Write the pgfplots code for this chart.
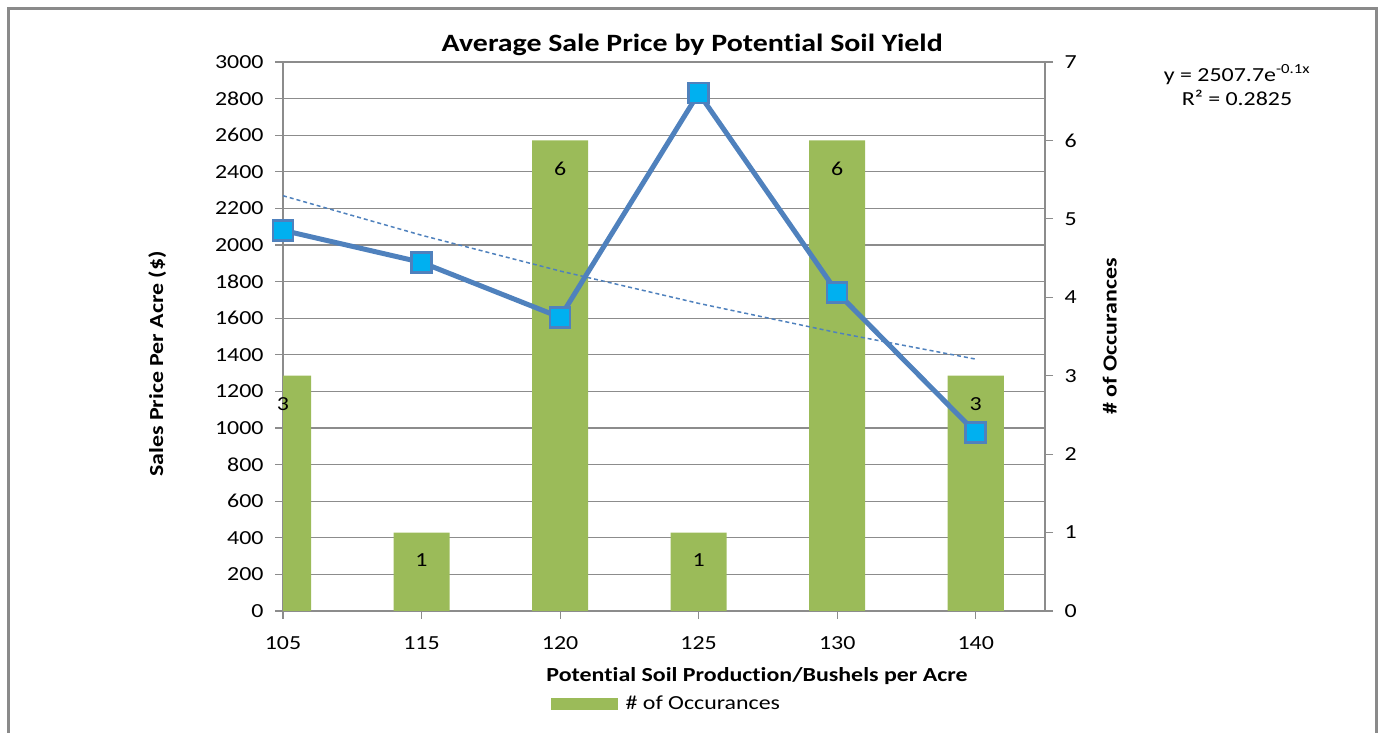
\documentclass[border=0pt]{standalone}
\usepackage{pgfplots}
\pgfplotsset{compat=1.18}
\usepackage{fontspec}
\setmainfont{Carlito}[FakeStretch=1.2, Ligatures=CommonOff]
\definecolor{bargreen}{HTML}{9BBB59}
\definecolor{lineblue}{HTML}{4F81BD}
\definecolor{markcyan}{HTML}{00B0F0}
\definecolor{gridgray}{HTML}{8C8C8C}
\definecolor{framegray}{HTML}{8A8A8A}
\newcommand{\tf}{\fontsize{20}{24}\selectfont}
\pgfplotsset{
  base/.style={
    at={(283bp,121bp)}, anchor=south west,
    scale only axis, width=762bp, height=549bp,
    xmin=0, xmax=5.5,
    tick label style={font=\tf},
    /pgf/number format/assume math mode=true,
    axis line style={gridgray, line width=1.2bp},
    tick style={gridgray, line width=1.2bp},
    tick align=outside, major tick length=8bp,
  }
}
\begin{document}
\begin{tikzpicture}[x=1bp,y=1bp]
\path[use as bounding box] (0,0) rectangle (1384,732);
\draw[framegray, line width=3bp] (8.5,-10) -- (8.5,723.5) -- (1376.5,723.5) -- (1376.5,-10);

% grid and left axis
\begin{axis}[base,
  ymin=0, ymax=3000,
  axis x line*=bottom, axis y line*=left,
  xtick={0,1,2,3,4,5}, xticklabels={105,115,120,125,130,140},
  ytick={0,200,...,3000},
  yticklabel style={/pgf/number format/1000 sep={}, xshift=-8bp},
  ymajorgrids, major grid style={gridgray, line width=1.2bp},
  xlabel={\textbf{Potential Soil Production/Bushels per Acre}},
  xlabel style={font=\tf, at={(rel axis cs:0.622,-0.118)}, anchor=center},
  ylabel={\textbf{Sales Price Per Acre (\$)}},
  ylabel style={font=\tf, at={(rel axis cs:-0.165,0.45)}, anchor=center},
  title={\textbf{Average Sale Price by Potential Soil Yield}},
  title style={font=\fontsize{25}{30}\selectfont, at={(rel axis cs:0.537,1.02)}, anchor=center},
  xticklabel style={yshift=-14bp},
]
\addplot[draw=none] coordinates {(0,0)};
\end{axis}

% bars, right axis
\begin{axis}[base,
  ymin=0, ymax=7,
  axis x line=none, axis y line*=right,
  ytick={0,1,...,7},
  yticklabel style={xshift=8bp},
  ybar, bar width=56bp,
  ylabel={\textbf{\# of Occurances}},
  ylabel style={font=\tf, at={(rel axis cs:1.085,0.5)}, anchor=center},
  legend style={font=\tf, at={(rel axis cs:0.347,-0.169)}, anchor=west, draw=none, fill=none},
  legend image code/.code={\fill[bargreen] (0bp,-6bp) rectangle (67bp,6bp);},
  nodes near coords,
  every node near coord/.append style={font=\tf, anchor=north, yshift=-18bp, text=black},
]
\addplot[fill=bargreen, draw=none] coordinates {(0,3) (1,1) (2,6) (3,1) (4,6) (5,3)};
\addlegendentry{\hspace*{6bp}\# of Occurances}
\end{axis}

% line and trendline
\begin{axis}[base,
  ymin=0, ymax=3000,
  axis lines=none,
]
\addplot[lineblue, line width=1.5bp, dash pattern=on 4bp off 3bp] coordinates {(0,2269.1) (1,2053.2) (2,1857.8) (3,1681.0) (4,1521.0) (5,1376.3)};
\addplot[lineblue, line width=5bp, mark=square*, mark size=10bp,
  mark options={fill=markcyan, draw=lineblue, line width=2.5bp}]
  coordinates {(0,2080) (1,1905) (2,1605) (3,2830) (4,1740) (5,975)};
\end{axis}

\node[align=center, font=\tf] at (1237,647) {y = 2507.7e\textsuperscript{-0.1x}\\R² = 0.2825};
\end{tikzpicture}
\end{document}
